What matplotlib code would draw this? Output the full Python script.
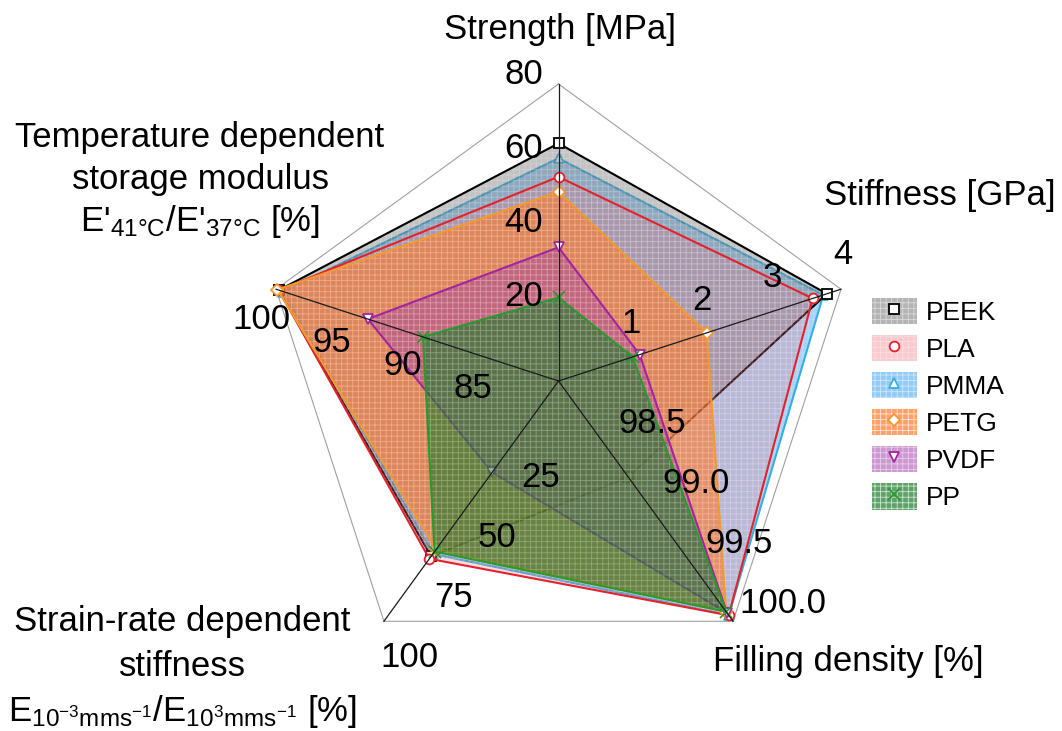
import numpy as np
import matplotlib.pyplot as plt
from matplotlib.patches import Patch
from matplotlib.lines import Line2D
from matplotlib.legend_handler import HandlerTuple

plt.rcParams['font.family'] = ['Liberation Sans', 'DejaVu Sans']
plt.rcParams['mathtext.default'] = 'regular'
plt.rcParams['hatch.linewidth'] = 0.6

# 材料与各项指标
materials = ['PEEK', 'PLA', 'PMMA', 'PETG', 'PVDF', 'PP']
strength = [64, 55, 60, 51, 36, 22.5]                 # MPa
stiffness = [3.8, 3.6, 3.75, 2.1, 1.15, 1.05]         # GPa
filling = [98.8, 99.95, 99.95, 99.92, 99.93, 99.92]   # %
strain_rate = [73, 74, 72, 70, 38, 71]                # %
temperature = [99.8, 99.8, 99.5, 99.9, 93.5, 89.6]    # %

# 每个轴的范围(中心值, 外圈值)和刻度
axis_min = [0, 0, 98.0, 0, 80]
axis_max = [80, 4, 100.0, 100, 100]
axis_ticks = [[20, 40, 60, 80], [1, 2, 3, 4], [98.5, 99.0, 99.5, 100.0],
              [25, 50, 75, 100], [85, 90, 95, 100]]
tick_fmt = ['{:.0f}', '{:.0f}', '{:.1f}', '{:.0f}', '{:.0f}']

line_colors = ['black', '#e3222b', '#35aee0', '#f29a2e', '#a2259e', '#2b9a2e']
fill_colors = ['#6a6a6a', '#f06878', '#3a9ff0', '#ff7a28', '#a03aa8', '#1a7a2a']
fill_alpha = [0.4, 0.25, 0.45, 0.6, 0.42, 0.6]
markers = ['s', 'o', '^', 'D', 'v', 'x']
marker_sizes = [7, 7, 7, 6, 7, 8]
draw_order = [2, 0, 1, 3, 4, 5]   # PMMA 先画, 其余按图例顺序叠加

W, H = 1062, 731
R = 297.0            # 外圈半径(像素)
cx, cy = 558.5, 381  # 中心位置(像素, 自上而下)

fig = plt.figure(figsize=(W / 100, H / 100), dpi=100)
ax = fig.add_axes([0, 0, 1, 1])
ax.set_xlim(-cx / R, (W - cx) / R)
ax.set_ylim(-(H - cy) / R, cy / R)
ax.axis('off')

n_axes = 5
theta = np.deg2rad(90 - 72 * np.arange(n_axes))

# 外圈五边形
ax.plot(np.append(np.cos(theta), np.cos(theta[0])),
        np.append(np.sin(theta), np.sin(theta[0])),
        color='#a0a0a0', lw=0.8, zorder=1)


def to_radius(values):
    vals = np.asarray(values, dtype=float)
    return (vals - np.array(axis_min)) / (np.array(axis_max) - np.array(axis_min))


data = np.array([strength, stiffness, filling, strain_rate, temperature]).T

# 按顺序绘制: 后面的填充会盖住前面的线
for z_idx, i in enumerate(draw_order):
    r = to_radius(data[i])
    x = r * np.cos(theta)
    y = r * np.sin(theta)
    xc = np.append(x, x[0])
    yc = np.append(y, y[0])
    z = 2 + z_idx
    ax.fill(xc, yc, color=fill_colors[i], alpha=fill_alpha[i], lw=0, zorder=z)
    ax.fill(xc, yc, facecolor='none', edgecolor=(1, 1, 1, 0.22),
            hatch='+++', lw=0, zorder=z + 0.1)
    ax.plot(xc, yc, color=line_colors[i], lw=1.5, zorder=z + 0.3)
    mfc = line_colors[i] if markers[i] == 'x' else 'white'
    ax.plot(x, y, ls='none', marker=markers[i], ms=marker_sizes[i],
            mfc=mfc, mec=line_colors[i], mew=1.3, zorder=z + 0.4)

# 辐射线
for t in theta:
    ax.plot([0, np.cos(t)], [0, np.sin(t)], color='#1a1a1a', lw=0.9, zorder=12)

# 刻度标签(像素偏移)
tick_offsets = [(-35, 10), (2, 35), (50, 18), (26, -36), (-15, -30)]
for k in range(n_axes):
    for v in axis_ticks[k]:
        rr = (v - axis_min[k]) / (axis_max[k] - axis_min[k])
        ax.annotate(tick_fmt[k].format(v),
                    xy=(rr * np.cos(theta[k]), rr * np.sin(theta[k])),
                    xytext=tick_offsets[k], textcoords='offset pixels',
                    ha='center', va='center', fontsize=25, zorder=14)

# 轴标题
fs = 25
fig.text(560 / W, 1 - 30 / H, 'Strength [MPa]', ha='center', va='center', fontsize=fs)
fig.text(940 / W, 1 - 195 / H, 'Stiffness [GPa]', ha='center', va='center', fontsize=fs)
fig.text(848 / W, 1 - 662 / H, 'Filling density [%]', ha='center', va='center', fontsize=fs)

temp_lines = ['Temperature dependent', 'storage modulus',
              r"E'$_{41°C}$/E'$_{37°C}$ [%]"]
temp_y = [137, 180, 222]
for s, yy in zip(temp_lines, temp_y):
    fig.text(200 / W, 1 - yy / H, s, ha='center', va='center', fontsize=fs)

strain_lines = ['Strain-rate dependent', 'stiffness',
                r'E$_{10^{-3}mms^{-1}}$/E$_{10^{3}mms^{-1}}$ [%]']
strain_y = [622, 667, 712]
for s, yy in zip(strain_lines, strain_y):
    fig.text(182 / W, 1 - yy / H, s, ha='center', va='center', fontsize=fs)

# 图例
handles = []
for i in range(len(materials)):
    p = Patch(facecolor=fill_colors[i], alpha=min(fill_alpha[i] + 0.1, 1),
              edgecolor=(1, 1, 1, 0.4), hatch='+++', lw=0)
    mfc = line_colors[i] if markers[i] == 'x' else 'white'
    m = Line2D([], [], ls='none', marker=markers[i], ms=marker_sizes[i],
               mfc=mfc, mec=line_colors[i], mew=1.3)
    handles.append((p, m))

fig.legend(handles, materials,
           handler_map={tuple: HandlerTuple(ndivide=1, pad=0)},
           loc='upper left', bbox_to_anchor=(872 / W, 1 - 298 / H),
           frameon=False, fontsize=19, handlelength=1.7, handleheight=1.15,
           labelspacing=0.38, handletextpad=0.35, borderpad=0, borderaxespad=0)

fig.savefig('out.png', dpi=100)
